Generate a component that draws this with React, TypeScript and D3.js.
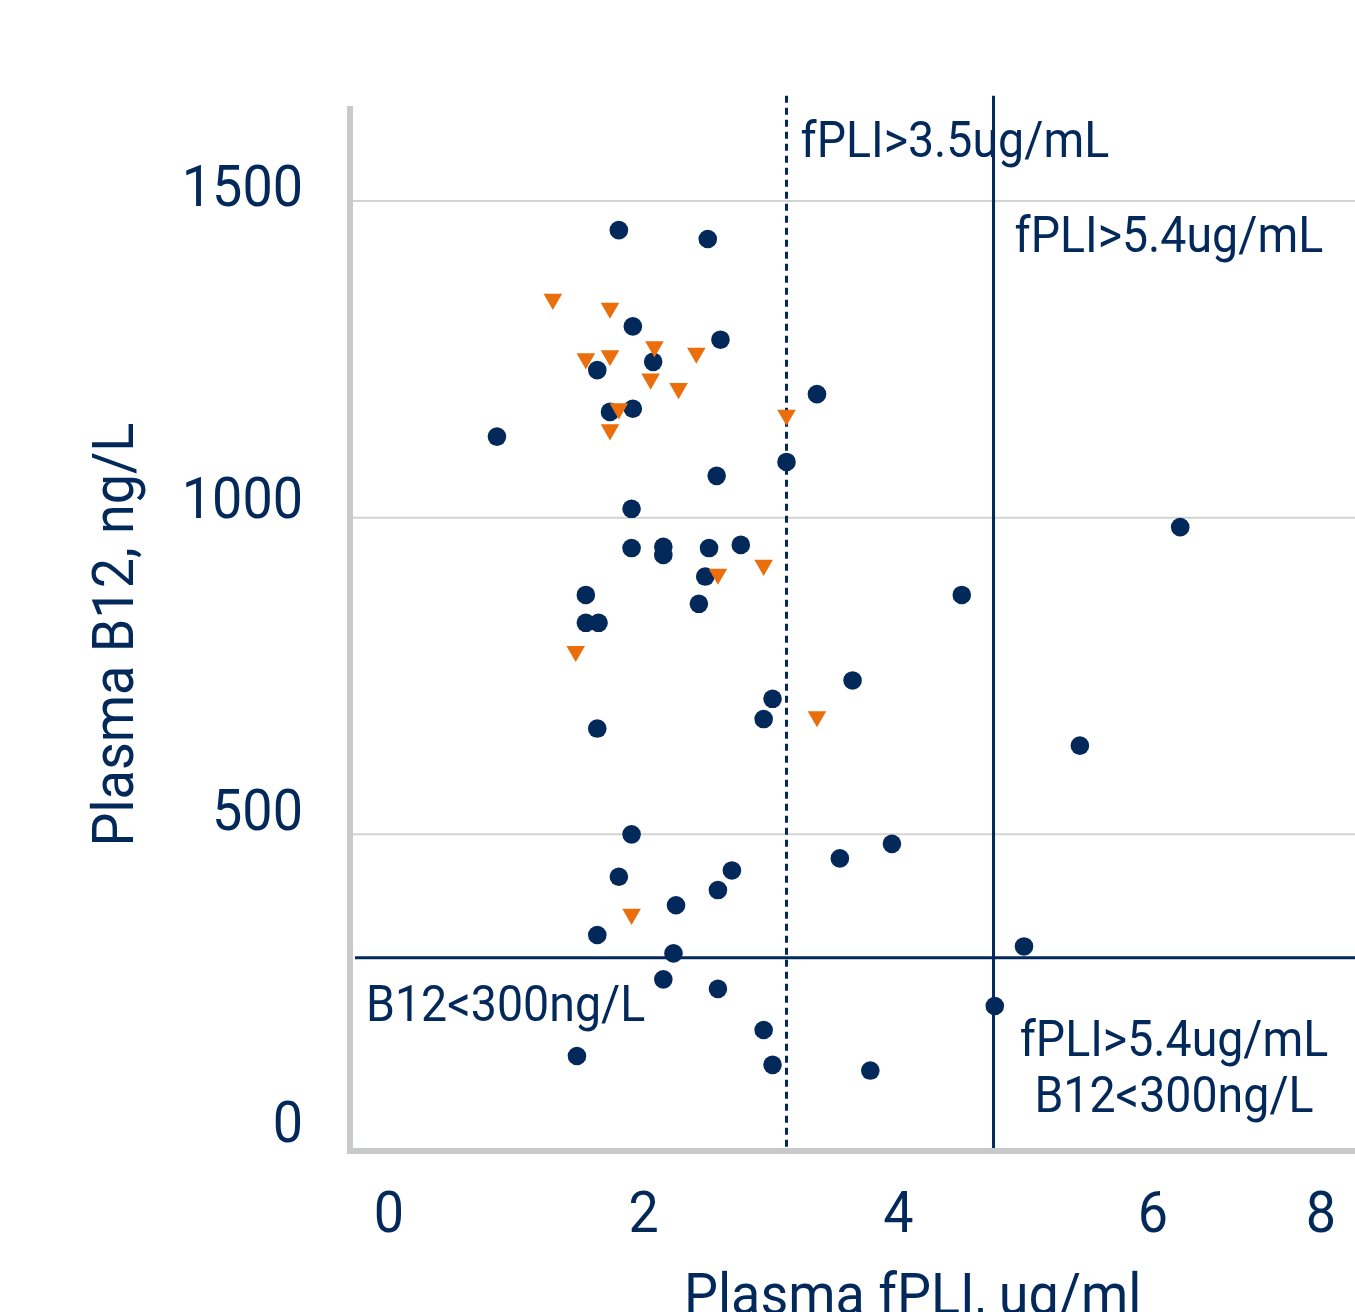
import React from 'react';
import * as d3 from 'd3';

const W = 1355;
const H = 1312;
const NAVY = '#03295a';
const ORANGE = '#eb6e0c';
const AXIS_GREY = '#c8c9ca';
const GRID_GREY = '#d3d3d3';
const FONT = 'Roboto, "Open Sans", sans-serif';

// axis ticks
const xTicks = [0, 2, 4, 6, 8];
const yTicks = [0, 500, 1000, 1500];
const gridValues = [500, 1000, 1500];

// navy dots
const circleFpli = [
  1.81, 2.51, 1.92, 2.61, 2.08, 1.64, 3.37, 1.74, 1.92, 0.85,
  3.13, 2.58, 1.91, 6.23, 1.91, 2.16, 2.16, 2.52, 2.77, 2.49,
  1.55, 4.51, 2.44, 1.55, 1.65, 3.65, 3.02, 2.95, 1.64, 5.44,
  1.91, 3.96, 3.55, 1.81, 2.7, 2.59, 2.26, 1.64, 5.0, 2.24,
  2.16, 2.59, 4.77, 2.95, 1.48, 3.02, 3.79,
];
const circleB12 = [
  1454, 1440, 1302, 1281, 1246, 1233, 1195, 1167, 1172, 1128,
  1088, 1066, 1014, 985, 952, 954, 941, 952, 957, 907,
  878, 878, 864, 834, 834, 743, 714, 682, 667, 640,
  500, 485, 462, 433, 443, 412, 388, 341, 323, 312,
  271, 256, 229, 191, 150, 136, 127,
];

// orange triangles
const triangleFpli = [
  1.29, 1.74, 2.09, 1.55, 1.74, 2.42, 2.06, 2.28, 3.13, 1.81,
  1.74, 2.59, 2.95, 1.47, 3.37, 1.91,
];
const triangleB12 = [
  1345, 1331, 1270, 1251, 1256, 1260, 1219, 1204, 1162, 1172,
  1139, 911, 925, 789, 686, 374,
];

// cut-off lines as drawn
const fpliDashed = 3.13;
const fpliSolid = 4.76;
const b12Cut = 305;

const x = d3.scaleLinear().domain([0, 8]).range([389, 1405]);
const y = d3.scaleLinear().domain([0, 1650]).range([1151, 106]);
// tick labels sit slightly off the gridlines in the original
const yLabel = d3.scaleLinear().domain([0, 1500]).range([1142, 205.7]);
const xLabel = d3.scaleLinear().domain([0, 6]).range([389, 1153]);

const plotLeft = 350;
const lineTop = y(1666);

const tri = d3.symbol().type(d3.symbolTriangle).size(150)();

const Txt = ({ tx, ty, size = 50, anchor = 'start', rot = 0, children }: any) => (
  <text
    transform={`translate(${tx},${ty}) rotate(${rot}) scale(0.93,1)`}
    textAnchor={anchor}
    fontSize={size}
    fill={NAVY}
    fontFamily={FONT}
  >
    {children}
  </text>
);

export default function App() {
  return (
    <svg
      width={W}
      height={H}
      style={{ position: 'absolute', left: 0, top: 0, background: '#fff' }}
    >
      <rect width={W} height={H} fill="#fff" />

      {/* gridlines */}
      {gridValues.map((v) => (
        <line key={v} x1={plotLeft + 3} x2={W} y1={y(v)} y2={y(v)} stroke={GRID_GREY} strokeWidth={2} />
      ))}

      {/* axes */}
      <line x1={plotLeft} x2={plotLeft} y1={y(1650)} y2={y(0) + 3} stroke={AXIS_GREY} strokeWidth={6} />
      <line x1={plotLeft - 3} x2={W} y1={y(0)} y2={y(0)} stroke={AXIS_GREY} strokeWidth={6} />

      {/* cut-off lines */}
      <line
        x1={x(fpliDashed)} x2={x(fpliDashed)} y1={lineTop} y2={y(0) - 3}
        stroke={NAVY} strokeWidth={3} strokeDasharray="7,5"
      />
      <line x1={x(fpliSolid)} x2={x(fpliSolid)} y1={lineTop} y2={y(0) - 3} stroke={NAVY} strokeWidth={3} />
      <line x1={plotLeft + 5} x2={W} y1={y(b12Cut)} y2={y(b12Cut)} stroke={NAVY} strokeWidth={3} />

      {/* points */}
      {circleFpli.map((v, i) => (
        <circle key={'c' + i} cx={x(v)} cy={y(circleB12[i])} r={9.3} fill={NAVY} />
      ))}
      {triangleFpli.map((v, i) => (
        <path
          key={'t' + i}
          d={tri as string}
          transform={`translate(${x(v)},${y(triangleB12[i])}) rotate(180)`}
          fill={ORANGE}
        />
      ))}

      {/* tick labels */}
      {yTicks.map((v) => (
        <Txt key={v} tx={303} ty={yLabel(v)} size={58} anchor="end">{v}</Txt>
      ))}
      {xTicks.map((v) => (
        <Txt key={v} tx={Math.min(xLabel(v), W - 34)} ty={1231.7} size={58} anchor="middle">{v}</Txt>
      ))}

      {/* axis titles */}
      <Txt tx={132.7} ty={634.6} size={58} anchor="middle" rot={-90}>Plasma B12, ng/L</Txt>
      <Txt tx={912.7} ty={1314} size={58} anchor="middle">Plasma fPLI, ug/ml</Txt>

      {/* annotations */}
      <Txt tx={x(fpliDashed) + 14} ty={y(1570)}>fPLI&gt;3.5ug/mL</Txt>
      <Txt tx={x(fpliSolid) + 21} ty={y(1420)}>fPLI&gt;5.4ug/mL</Txt>
      <Txt tx={plotLeft + 16} ty={y(b12Cut) + 63}>B12&lt;300ng/L</Txt>
      <Txt tx={1174} ty={y(b12Cut) + 98} anchor="middle">fPLI&gt;5.4ug/mL</Txt>
      <Txt tx={1174} ty={y(b12Cut) + 154} anchor="middle">B12&lt;300ng/L</Txt>
    </svg>
  );
}
